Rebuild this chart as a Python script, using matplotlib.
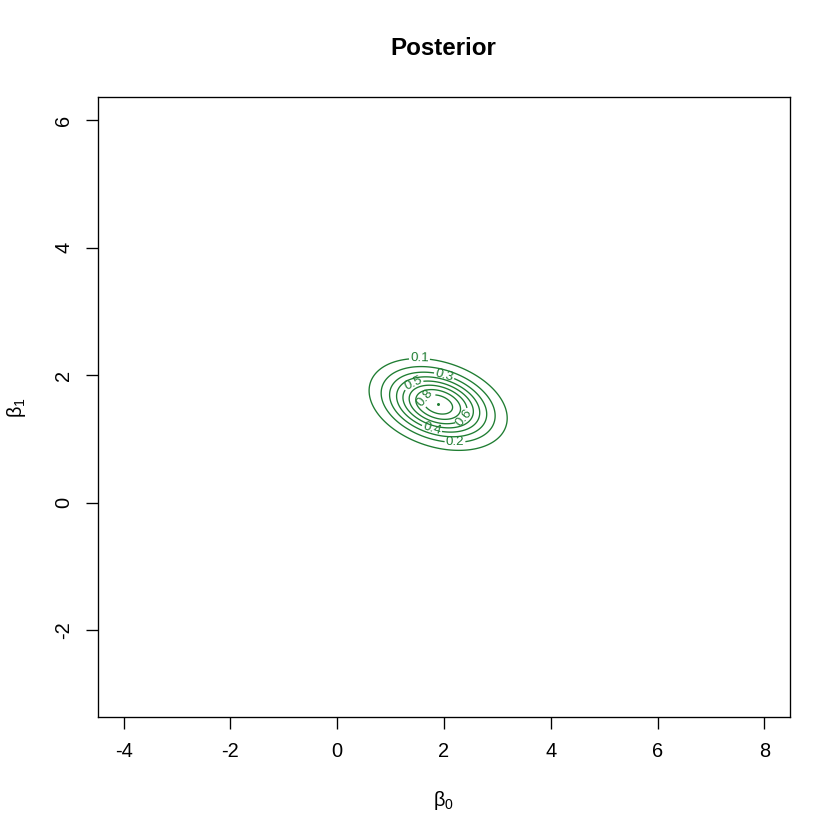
import numpy as np
import matplotlib.pyplot as plt

# posterior shape
b0_mean, b1_mean = 1.89, 1.54
b0_sd, b1_sd = 0.62, 0.345
rho = -0.30
peak = 0.88
label_levels = [0.1, 0.2, 0.3, 0.4, 0.5, 0.6, 0.8]
# direction from the mode (data units) where each label sits on its ring
label_dirs = [(-0.36, 0.74), (0.34, -0.64), (0.11, 0.44), (-0.13, -0.42),
              (-0.43, 0.30), (0.47, -0.20), (-0.13, 0.06)]
x_range = (-4, 8)
y_range = (-3, 6)
x_ticks = [-4, -2, 0, 2, 4, 6, 8]
y_ticks = [-2, 0, 2, 4, 6]

plt.rcParams['font.family'] = ['Liberation Sans', 'DejaVu Sans']


def quad(d0, d1):
    z0 = d0 / b0_sd
    z1 = d1 / b1_sd
    return (z0 ** 2 - 2 * rho * z0 * z1 + z1 ** 2) / (1 - rho ** 2)


b0 = np.linspace(x_range[0], x_range[1], 601)
b1 = np.linspace(y_range[0], y_range[1], 451)
B0, B1 = np.meshgrid(b0, b1)
post = peak * np.exp(-quad(B0 - b0_mean, B1 - b1_mean) / 2)

# put each label on its own ring along the chosen direction
spots = []
for lev, (u0, u1) in zip(label_levels, label_dirs):
    t = np.sqrt(2 * np.log(peak / lev) / quad(u0, u1))
    spots.append((b0_mean + t * u0, b1_mean + t * u1))

fig = plt.figure(figsize=(7, 7), dpi=120)
ax = fig.add_axes([0.1167, 0.1464, 0.8238, 0.7381])

green = '#1f7d32'
cs = ax.contour(B0, B1, post, levels=label_levels, colors=green, linewidths=0.8)
ax.clabel(cs, fontsize=8, inline=True, inline_spacing=2,
          fmt='%.1f', manual=spots)
ax.contour(B0, B1, post, levels=[0.7], colors=green, linewidths=0.8)
ax.plot([b0_mean], [b1_mean], marker='o', ms=0.8, color=green, linestyle='none')

pad_x = 0.04 * (x_range[1] - x_range[0])
pad_y = 0.04 * (y_range[1] - y_range[0])
ax.set_xlim(x_range[0] - pad_x, x_range[1] + pad_x)
ax.set_ylim(y_range[0] - pad_y, y_range[1] + pad_y)
ax.set_xticks(x_ticks)
ax.set_yticks(y_ticks)
ax.set_xticklabels([str(t) for t in x_ticks])
ax.set_yticklabels([str(t) for t in y_ticks], rotation=90, va='center')
ax.tick_params(direction='out', length=7, width=0.8, labelsize=12, pad=8)
for s in ax.spines.values():
    s.set_linewidth(0.8)

fig.text(0.528, 0.942, 'Posterior', ha='center', va='center', fontsize=14.5, fontweight='bold')
fig.text(0.528, 0.047, r'$\mathregular{\beta_0}$', ha='center', va='center', fontsize=12)
fig.text(0.02, 0.515, r'$\mathregular{\beta_1}$', ha='center', va='center', fontsize=12, rotation=90)

fig.savefig('out.png', dpi=120)
